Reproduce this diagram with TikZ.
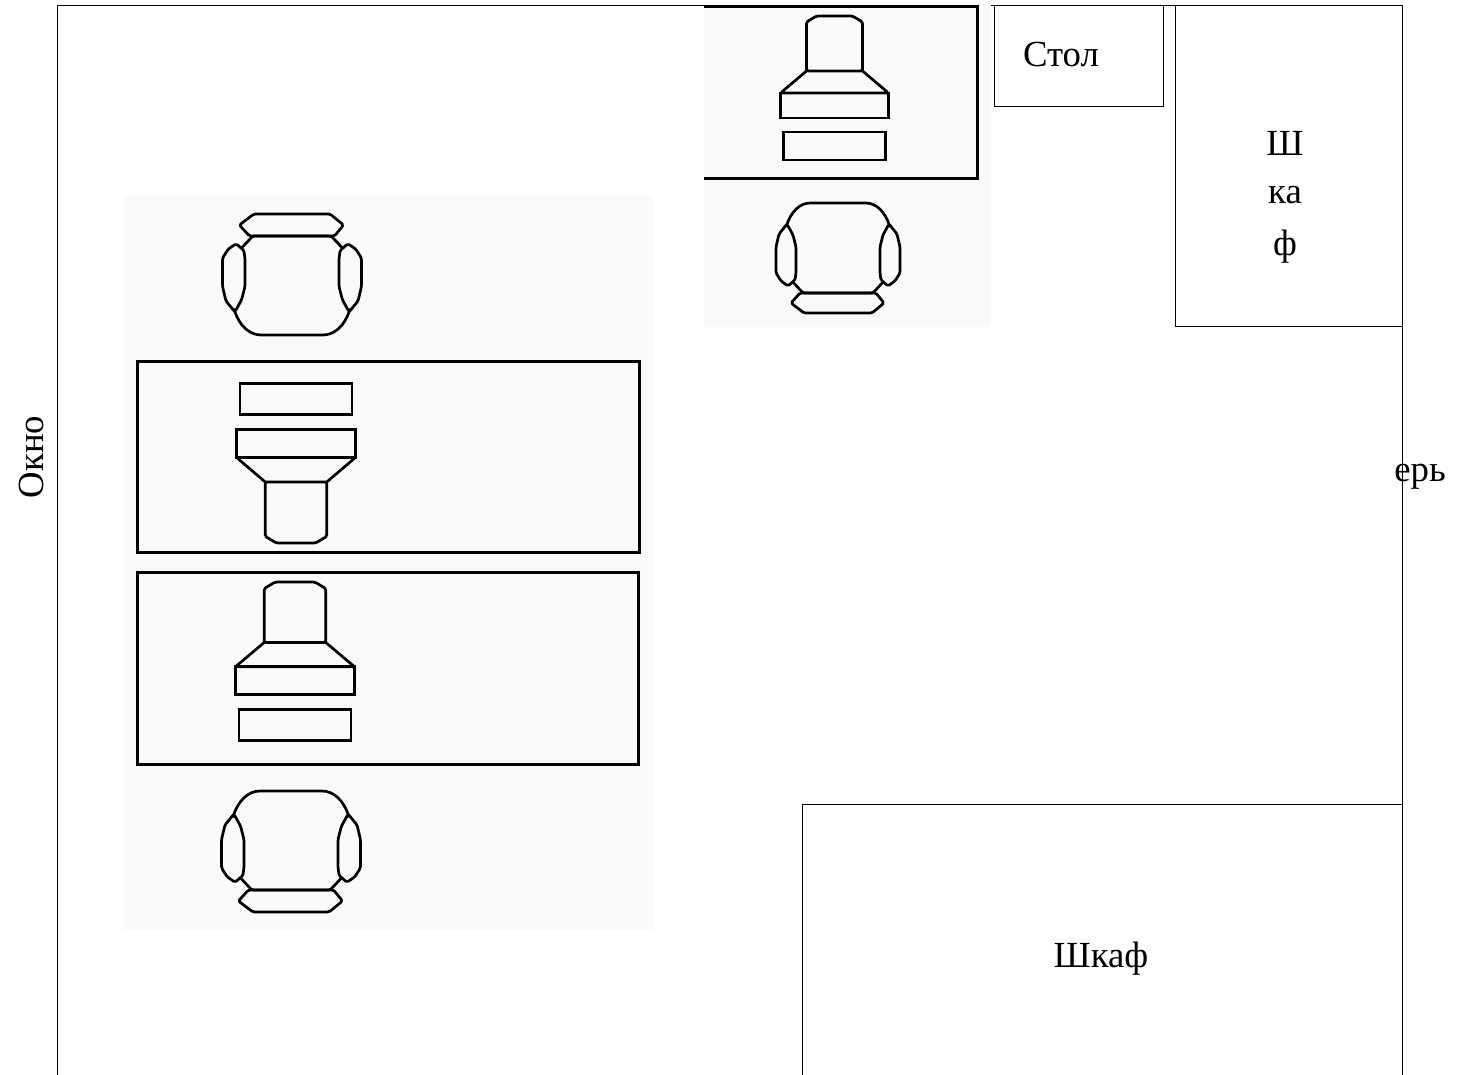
\documentclass[tikz,border=0pt]{standalone}
\usepackage{fontspec}
\setmainfont{Liberation Serif}
\tikzset{
  x=0.5pt,y=-0.5pt,
  room/.style={draw=black,line width=0.5pt},
  heavy/.style={draw=black,line width=1.5pt,line join=miter},
  sharp/.style={draw=black,line width=1.35pt,line join=miter},
  soft/.style={draw=black,line width=1.35pt,line join=round,rounded corners=0.8pt},
  lab/.style={font=\fontsize{18.4}{20}\selectfont,inner sep=0pt,text=black},
  patch/.style={fill=black!2,draw=none},
  pics/person/.style={code={
    \draw[soft] (-28,55) -- (-28,6) -- (-18,0) -- (18,0) -- (28,6) -- (28,55) -- cycle;
    \draw[soft] (-28,55) -- (-54,77) -- (54,77) -- (28,55);
    \draw[sharp] (-54,77) rectangle (54,102);
    \draw[sharp] (-51,116) rectangle (51,144);
  }},
  pics/seat/.style={code={
    \draw[soft] (-52,24) .. controls (-47,8) and (-38,0) .. (-26,0) -- (26,0) .. controls (38,0) and (47,8) .. (52,24);
    \draw[soft] (-46,78) -- (-35,90) -- (35,90) -- (46,78);
    \draw[soft] (-51,21) -- (-59,31) -- (-62,44) -- (-62,70) -- (-57,78) -- (-50,83) -- (-43,77) -- (-42,70) -- (-42,44) -- (-45,32) -- cycle;
    \draw[soft] (51,21) -- (59,31) -- (62,44) -- (62,70) -- (57,78) -- (50,83) -- (43,77) -- (42,70) -- (42,44) -- (45,32) -- cycle;
    \draw[soft] (-38,90) -- (38,90) -- (46,100) -- (34,110) -- (-34,110) -- (-47,100) -- cycle;
  }}
}
\begin{document}
\begin{tikzpicture}
\useasboundingbox (0,0) rectangle (1464,1075);
\fill[white] (0,0) rectangle (1464,1075);
% room walls
\draw[room] (57,1075) -- (57,6) -- (704,6);
\draw[room] (991,6) -- (1402,6) -- (1402,1075);
% photo patches
\path[patch] (704,7) rectangle (991,327);
\path[patch] (123,196) rectangle (654,930);
% top desk
\draw[heavy] (704,7) -- (977,7) -- (977,179) -- (704,179);
\path (834.5,16) pic {person};
\path (838,203) pic {seat};
% left desks
\draw[heavy] (137,362) rectangle (639,553);
\draw[heavy] (137,573) rectangle (638,764);
\path (296,543) pic[xscale=1.1,yscale=-1.11] {person};
\path (295,582) pic[scale=1.1] {person};
\path (292,335) pic[xscale=1.12,yscale=-1.1] {seat};
\path (291,791) pic[xscale=1.12,yscale=1.1] {seat};
% furniture
\draw[room] (994,6) rectangle (1163,107);
\draw[room] (1175,6) rectangle (1402,327);
\draw[room] (802,1075) -- (802,804) -- (1402,804);
% labels
\node[lab] (table) at (1061,55) {Стол};
\node[lab] (wa) at (1285,143) {Ш};
\node[lab] (wb) at (1285,195) {ка};
\node[lab] (wc) at (1285,247) {ф};
\node[lab] (wardrobe) at (1101,959) {Шкаф};
\node[lab,rotate=90] (window) at (31,457) {Окно};
\node[lab,anchor=west] (door) at (1394,477) {ерь};
\end{tikzpicture}
\end{document}
